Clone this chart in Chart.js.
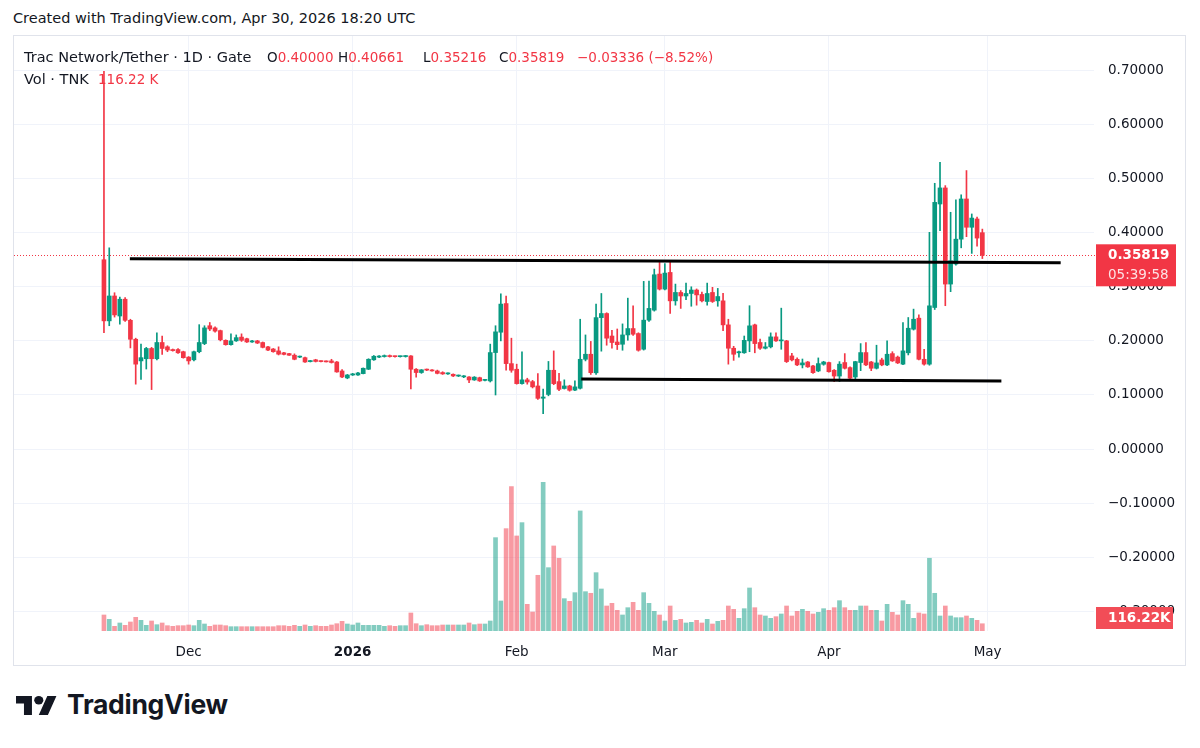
<!DOCTYPE html>
<html>
<head>
<meta charset="utf-8">
<script src="https://cdn.jsdelivr.net/npm/chart.js@4.4.1/dist/chart.umd.min.js"></script>
<style>
html,body{margin:0;padding:0;background:#fff;}
body{width:1200px;height:748px;position:relative;overflow:hidden;font-family:"DejaVu Sans",sans-serif;color:#131722;}
#created{position:absolute;left:13px;top:10px;font-size:14.5px;white-space:nowrap;}
#frame{position:absolute;left:13px;top:35px;width:1171px;height:629px;border:1px solid #e0e3eb;}
#wrap{position:absolute;left:0;top:0;width:1171px;height:629px;}
.leg{position:absolute;font-size:13.5px;white-space:nowrap;line-height:16px;}
.big{font-size:14.5px;}
.red{color:#F23645;}
#logo{position:absolute;left:16px;top:696px;}
#logotext{position:absolute;left:67px;top:688px;font-family:Inter,"DejaVu Sans",sans-serif;font-weight:700;font-size:26.5px;letter-spacing:-0.3px;color:#131722;}
</style>
</head>
<body>
<div id="created">Created with TradingView.com, Apr 30, 2026 18:20 UTC</div>
<div id="frame">
  <div id="wrap"><canvas id="c" width="1171" height="629"></canvas></div>
</div>
<div class="leg big" style="left:24px;top:49px;">Trac Network/Tether · 1D · Gate</div>
<div class="leg" style="left:267px;top:49px;">O<span class="red">0.40000</span></div>
<div class="leg" style="left:338px;top:49px;">H<span class="red">0.40661</span></div>
<div class="leg" style="left:423px;top:49px;">L<span class="red">0.35216</span></div>
<div class="leg" style="left:499px;top:49px;">C<span class="red">0.35819</span></div>
<div class="leg red" style="left:577px;top:49px;">−0.03336 (−8.52%)</div>
<div class="leg big" style="left:24px;top:71px;">Vol · TNK</div>
<div class="leg red" style="left:98px;top:71px;">116.22 K</div>
<svg id="logo" width="41" height="19" viewBox="0 4 36 18" preserveAspectRatio="none"><path fill="#131722" d="M14 22H7V11H0V4h14v18zM28 22h-8l7.5-18h8L28 22z"/><circle fill="#131722" cx="20" cy="8" r="4"/></svg>
<div id="logotext">TradingView</div>
<script>
// ---- data (daily candles from 2025-11-15 to 2026-04-30) ----
const START_DATE = '2025-11-15';
const OPEN = [
0.350,0.237,0.283,0.246,0.277,0.238,0.203,0.163,0.167,0.186,
0.167,0.197,0.189,0.184,0.184,0.180,0.170,0.165,0.180,0.195,
0.228,0.224,0.219,0.201,0.193,0.200,0.207,0.204,0.198,0.200,
0.197,0.189,0.185,0.1815,0.178,0.1765,0.1735,0.170,0.169,0.1617,
0.165,0.1623,0.1620,0.163,0.161,0.1444,0.1315,0.137,0.137,0.1395,
0.1476,0.165,0.170,0.171,0.1728,0.1712,0.1708,0.1710,0.1722,0.1476,
0.1415,0.1475,0.1460,0.1444,0.1415,0.1390,0.1383,0.1350,0.1335,0.1333,
0.1278,0.1320,0.1270,0.1260,0.1784,0.2160,0.269,0.158,0.1476,0.121,
0.128,0.1247,0.1167,0.094,0.101,0.1457,0.1247,0.112,0.1167,0.109,
0.1124,0.166,0.1753,0.141,0.243,0.2506,0.209,0.198,0.1938,0.211,
0.2228,0.2136,0.1846,0.2383,0.2568,0.3235,0.2957,0.3265,0.274,0.2895,
0.283,0.2876,0.294,0.2858,0.2728,0.2895,0.274,0.274,0.2296,0.1864,
0.178,0.178,0.200,0.2296,0.197,0.1864,0.189,0.2074,0.200,0.200,
0.1722,0.166,0.1556,0.161,0.1537,0.1444,0.1568,0.160,0.1457,0.135,
0.160,0.1506,0.1333,0.160,0.1784,0.161,0.1494,0.1648,0.1556,0.1765,
0.170,0.157,0.178,0.2216,0.242,0.166,0.157,0.2617,0.453,0.4827,
0.305,0.342,0.388,0.4623,0.410,0.4253,0.40000];
const HIGH = [
0.698,0.372,0.289,0.281,0.280,0.240,0.205,0.194,0.188,0.188,
0.215,0.209,0.191,0.185,0.186,0.181,0.171,0.181,0.230,0.228,
0.234,0.226,0.220,0.202,0.213,0.211,0.213,0.205,0.201,0.201,
0.198,0.190,0.186,0.189,0.179,0.177,0.176,0.172,0.170,0.164,
0.166,0.163,0.163,0.166,0.162,0.147,0.138,0.140,0.142,0.150,
0.167,0.173,0.173,0.174,0.174,0.172,0.172,0.173,0.173,0.149,
0.147,0.148,0.147,0.146,0.143,0.141,0.139,0.137,0.136,0.134,
0.134,0.133,0.129,0.194,0.228,0.287,0.283,0.205,0.157,0.180,
0.131,0.127,0.1395,0.111,0.162,0.1815,0.140,0.128,0.118,0.126,
0.240,0.211,0.199,0.268,0.2876,0.252,0.2197,0.222,0.2314,0.279,
0.265,0.215,0.310,0.3105,0.3327,0.345,0.343,0.3457,0.305,0.293,
0.3068,0.300,0.296,0.290,0.3068,0.299,0.297,0.288,0.240,0.190,
0.181,0.209,0.265,0.231,0.2035,0.197,0.2148,0.2148,0.2605,0.201,
0.177,0.1685,0.1665,0.162,0.155,0.1685,0.1623,0.161,0.147,0.1617,
0.1765,0.152,0.1623,0.195,0.197,0.162,0.192,0.168,0.200,0.180,
0.172,0.234,0.2432,0.2587,0.248,0.1846,0.4006,0.4913,0.530,0.487,
0.4377,0.4605,0.470,0.5148,0.4346,0.4287,0.40661];
const LOW = [
0.215,0.228,0.244,0.231,0.236,0.187,0.120,0.129,0.148,0.110,
0.165,0.175,0.180,0.181,0.177,0.168,0.157,0.163,0.178,0.193,
0.219,0.216,0.200,0.192,0.192,0.199,0.199,0.197,0.197,0.195,
0.187,0.182,0.179,0.174,0.174,0.173,0.165,0.169,0.160,0.161,
0.161,0.161,0.161,0.159,0.142,0.132,0.130,0.136,0.136,0.139,
0.147,0.164,0.169,0.170,0.170,0.170,0.170,0.170,0.1110,0.133,
0.140,0.145,0.144,0.139,0.138,0.138,0.134,0.134,0.132,0.123,
0.127,0.125,0.126,0.124,0.100,0.200,0.146,0.142,0.120,0.120,
0.120,0.113,0.092,0.0654,0.0985,0.119,0.108,0.111,0.107,0.108,
0.111,0.163,0.138,0.138,0.181,0.192,0.1864,0.184,0.1827,0.2012,
0.210,0.181,0.183,0.236,0.255,0.294,0.294,0.2506,0.266,0.260,
0.276,0.264,0.266,0.272,0.266,0.271,0.264,0.219,0.157,0.164,
0.170,0.177,0.180,0.178,0.184,0.185,0.187,0.199,0.1845,0.160,
0.163,0.154,0.150,0.151,0.140,0.143,0.155,0.142,0.1247,0.1247,
0.148,0.127,0.128,0.145,0.154,0.145,0.148,0.154,0.154,0.162,
0.158,0.156,0.174,0.220,0.165,0.155,0.155,0.258,0.4037,0.265,
0.291,0.340,0.372,0.3926,0.3617,0.375,0.35216];
const CLOSE = [
0.237,0.283,0.248,0.277,0.238,0.203,0.157,0.169,0.186,0.167,
0.197,0.186,0.183,0.182,0.178,0.169,0.163,0.180,0.197,0.224,
0.222,0.218,0.202,0.193,0.200,0.206,0.201,0.198,0.200,0.196,
0.188,0.183,0.180,0.1755,0.175,0.1735,0.166,0.1716,0.161,0.1635,
0.162,0.1617,0.1612,0.160,0.1426,0.1333,0.137,0.139,0.1407,0.1494,
0.166,0.1716,0.172,0.1728,0.171,0.1708,0.1712,0.1715,0.1476,0.1415,
0.1465,0.1460,0.1445,0.1400,0.1390,0.1398,0.1352,0.1358,0.1345,0.1278,
0.1330,0.1260,0.1280,0.1784,0.2167,0.268,0.158,0.1457,0.121,0.128,
0.124,0.115,0.0938,0.0963,0.1457,0.121,0.1105,0.1167,0.1087,0.115,
0.166,0.1753,0.1413,0.243,0.2506,0.205,0.197,0.193,0.211,0.2228,
0.2123,0.1827,0.2383,0.260,0.3222,0.2957,0.3253,0.274,0.2895,0.283,
0.2876,0.294,0.285,0.274,0.2876,0.2728,0.282,0.2296,0.1864,0.1753,
0.180,0.201,0.2278,0.195,0.1864,0.189,0.2074,0.200,0.2012,0.1617,
0.1648,0.1556,0.1593,0.152,0.1413,0.158,0.161,0.143,0.135,0.157,
0.1494,0.131,0.1617,0.1784,0.1556,0.1494,0.1593,0.1556,0.1753,0.163,
0.1593,0.1815,0.2234,0.240,0.166,0.157,0.2648,0.456,0.4827,0.305,
0.348,0.388,0.4623,0.410,0.427,0.390,0.35819];
// volume, thousands of TNK
const VOLUME = [
256,187,75,128,91,144,219,171,91,160,
101,128,85,75,85,85,96,85,171,112,
75,96,96,85,69,69,69,69,69,69,
69,69,69,85,85,75,91,75,96,75,
85,75,75,96,117,155,112,96,128,91,
91,91,91,75,85,75,85,85,288,117,
85,101,85,85,96,96,96,96,96,128,
101,112,112,160,1493,480,1637,2309,1520,1733,
427,304,891,2379,1013,1360,1163,517,475,613,
1920,629,603,933,672,400,443,331,256,373,
459,331,613,443,315,256,160,400,171,187,
128,139,171,128,187,112,155,171,400,347,
203,357,688,373,256,240,203,229,272,400,
240,315,347,315,272,299,357,331,373,485,
373,331,331,400,400,331,331,160,427,299,
256,485,427,203,288,272,1163,603,240,400,
240,213,213,240,203,171,116.22];
const LAST_PRICE = 0.35819;
const LAST_VOLUME_LABEL = '116.22K';
const COUNTDOWN = '05:39:58';
// x-axis ticks: day index of each month start
const MONTH_TICKS = [16, 47, 78, 106, 137, 167];
const MONTH_LABELS = ['Dec', '2026', 'Feb', 'Mar', 'Apr', 'May'];
const PRICE_TICKS = [-0.3, -0.2, -0.1, 0, 0.1, 0.2, 0.3, 0.4, 0.5, 0.6, 0.7];
// hand-drawn horizontal lines: [day index, price]
const LINE_UPPER = [[4.9, 0.3519], [180.8, 0.3444]];
const LINE_LOWER = [[90.2, 0.1296], [169.6, 0.1259]];

const UP = '#089981', DOWN = '#F23645';
const UP_VOL = 'rgba(8,153,129,0.5)', DOWN_VOL = 'rgba(242,54,69,0.5)';
const isUp = OPEN.map((o, i) => CLOSE[i] >= o);
const FONT = '"DejaVu Sans", sans-serif';

const overlay = {
  id: 'overlay',
  beforeDatasetsDraw(chart) {
    const {ctx, chartArea: a} = chart;
    const y = Math.round(chart.scales.y.getPixelForValue(LAST_PRICE)) + 0.5;
    ctx.save();
    ctx.strokeStyle = DOWN;
    ctx.lineWidth = 1;
    ctx.setLineDash([1, 2]);
    ctx.beginPath(); ctx.moveTo(a.left, y); ctx.lineTo(a.right + 1, y); ctx.stroke();
    ctx.restore();
  },
  afterDraw(chart) {
    const {ctx, chartArea: a} = chart;
    const py = chart.scales.y.getPixelForValue(LAST_PRICE);
    const x0 = a.right + 2;
    ctx.save();
    ctx.fillStyle = DOWN;
    ctx.fillRect(x0, py - 11, 80, 42);
    ctx.textBaseline = 'middle';
    ctx.textAlign = 'left';
    ctx.font = 'bold 13.5px ' + FONT;
    ctx.fillStyle = '#ffffff';
    ctx.fillText(LAST_PRICE.toFixed(5), a.right + 14, py);
    ctx.font = '13.5px ' + FONT;
    ctx.fillStyle = '#fde2e4';
    ctx.fillText(COUNTDOWN, a.right + 14, py + 20);
    const vv = Math.min(chart.scales.yv.getPixelForValue(VOLUME[VOLUME.length - 1]), a.bottom - 13);
    ctx.fillStyle = '#f24d57';
    ctx.fillRect(x0, vv - 11, 77, 22);
    ctx.font = 'bold 13.5px ' + FONT;
    ctx.fillStyle = '#ffffff';
    ctx.fillText(LAST_VOLUME_LABEL, a.right + 14, vv);
    ctx.restore();
  }
};

new Chart(document.getElementById('c'), {
  type: 'bar',
  data: {
    datasets: [
      {
        type: 'line', order: 0, yAxisID: 'y',
        data: LINE_UPPER.map(p => ({x: p[0], y: p[1]})),
        borderColor: '#000000', borderWidth: 3, pointRadius: 0, tension: 0
      },
      {
        type: 'line', order: 0, yAxisID: 'y',
        data: LINE_LOWER.map(p => ({x: p[0], y: p[1]})),
        borderColor: '#000000', borderWidth: 3, pointRadius: 0, tension: 0
      },
      {
        order: 1, yAxisID: 'y', grouped: false,
        data: OPEN.map((o, i) => ({x: i, y: [o, CLOSE[i]]})),
        backgroundColor: isUp.map(u => u ? UP : DOWN),
        barThickness: 4, minBarLength: 1, borderWidth: 0
      },
      {
        order: 2, yAxisID: 'y', grouped: false,
        data: LOW.map((l, i) => ({x: i, y: [l, HIGH[i]]})),
        backgroundColor: isUp.map(u => u ? UP : DOWN),
        barThickness: 1, borderWidth: 0
      },
      {
        order: 3, yAxisID: 'yv', grouped: false,
        data: VOLUME.map((v, i) => ({x: i, y: v})),
        backgroundColor: isUp.map(u => u ? UP_VOL : DOWN_VOL),
        barThickness: 4, borderWidth: 0
      }
    ]
  },
  options: {
    responsive: false,
    animation: false,
    devicePixelRatio: 1,
    layout: {padding: 0},
    plugins: {legend: {display: false}, tooltip: {enabled: false}},
    scales: {
      x: {
        type: 'linear', position: 'bottom', offset: false,
        min: -17.0, max: 187.1,
        grid: {offset: false, color: '#f0f3fa', drawTicks: false},
        border: {display: false},
        afterBuildTicks: s => { s.ticks = MONTH_TICKS.map(v => ({value: v})); },
        afterFit: s => { s.height = 34; s.paddingLeft = 0; s.paddingRight = 0; },
        ticks: {
          autoSkip: false, maxRotation: 0, padding: 13, color: '#131722',
          font: c => ({family: FONT, size: 13.5, weight: (c.tick && c.tick.value === 47) ? 'bold' : 'normal'}),
          callback: v => MONTH_LABELS[MONTH_TICKS.indexOf(v)]
        }
      },
      y: {
        type: 'linear', position: 'right',
        min: -0.3362, max: 0.7635,
        grid: {color: '#f0f3fa', drawTicks: false},
        border: {display: false},
        afterBuildTicks: s => { s.ticks = PRICE_TICKS.map(v => ({value: v})); },
        afterFit: s => { s.width = 91; s.paddingTop = 0; s.paddingBottom = 0; },
        ticks: {
          padding: 14, color: '#131722', crossAlign: 'near',
          font: {family: FONT, size: 13.5},
          callback: v => (v < 0 ? '\u2212' : '') + Math.abs(v).toFixed(5)
        }
      },
      yv: {
        type: 'linear', display: false,
        min: 0, max: Math.max(...VOLUME) * 4
      }
    }
  },
  plugins: [overlay]
});
</script>
</body>
</html>
